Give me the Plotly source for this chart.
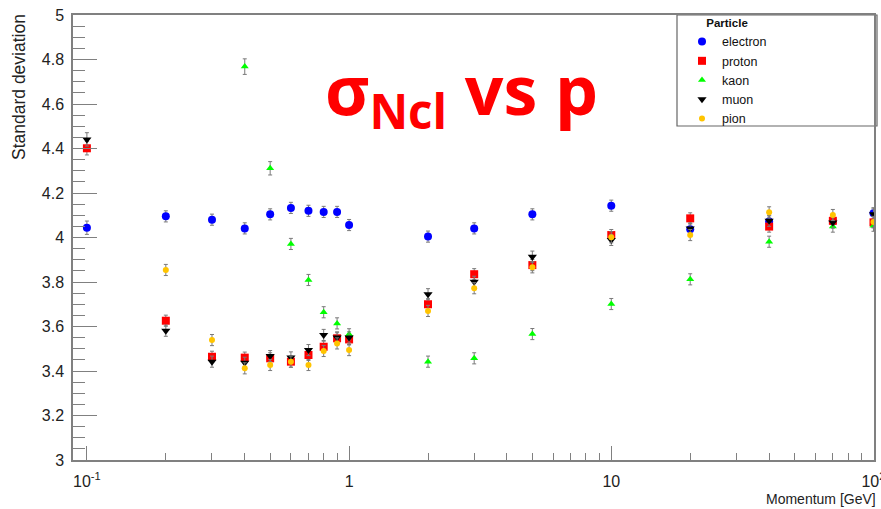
import plotly.graph_objects as go

# Momentum bins [GeV]
momentum = [0.1, 0.2, 0.3, 0.4, 0.5, 0.6, 0.7, 0.8, 0.9, 1, 2, 3, 5, 10, 20, 40, 70, 100]

# Standard deviation of Ncl per particle species
electron = [4.044, 4.095, 4.080, 4.041, 4.104, 4.133, 4.120, 4.115, 4.115, 4.056,
            4.004, 4.041, 4.104, 4.143, 4.037, 4.072, 4.072, 4.109]
proton = [4.401, 3.626, 3.464, 3.460, 3.457, 3.442, 3.472, 3.509, 3.547, 3.542,
          3.700, 3.835, 3.876, 4.011, 4.086, 4.049, 4.075, 4.068]
kaon = [None, None, None, 4.768, 4.311, 3.971, 3.809, 3.664, 3.614, 3.565,
        3.442, 3.457, 3.566, 3.701, 3.812, 3.981, 4.049, 4.053]
muon = [4.441, 3.581, 3.442, 3.437, 3.467, 3.461, 3.494, 3.562, 3.551, 3.551,
        3.745, 3.801, 3.914, 3.989, 4.041, 4.075, 4.067, 4.104]
pion = [None, 3.854, 3.539, 3.412, 3.427, 3.442, 3.427, 3.490, 3.524, 3.494,
        3.670, 3.772, 3.866, 4.001, 4.011, 4.113, 4.101, 4.070]

# Statistical uncertainties
electron_err = [0.030, 0.025, 0.025, 0.025, 0.025, 0.025, 0.025, 0.025, 0.025, 0.025,
                0.025, 0.025, 0.025, 0.025, 0.025, 0.025, 0.025, 0.025]
proton_err = [0.030, 0.025, 0.025, 0.025, 0.025, 0.025, 0.025, 0.025, 0.025, 0.025,
              0.025, 0.025, 0.025, 0.025, 0.025, 0.025, 0.025, 0.025]
kaon_err = [None, None, None, 0.035, 0.030, 0.025, 0.025, 0.025, 0.025, 0.025,
            0.025, 0.025, 0.025, 0.025, 0.025, 0.025, 0.025, 0.025]
muon_err = [0.030, 0.025, 0.025, 0.025, 0.025, 0.025, 0.025, 0.025, 0.025, 0.025,
            0.025, 0.025, 0.025, 0.025, 0.025, 0.025, 0.025, 0.025]
pion_err = [None, 0.025, 0.025, 0.025, 0.025, 0.025, 0.025, 0.025, 0.025, 0.025,
            0.025, 0.025, 0.025, 0.025, 0.025, 0.025, 0.025, 0.025]

series = [
    ("electron", electron, electron_err, "#0000ff", "circle", 8),
    ("proton", proton, proton_err, "#ff0000", "square", 8),
    ("kaon", kaon, kaon_err, "#00ff00", "triangle-up", 7),
    ("muon", muon, muon_err, "#000000", "triangle-down", 8),
    ("pion", pion, pion_err, "#ffc400", "circle", 6),
]

x_major = [0.1, 1, 10, 100]
x_major_text = ["10<sup>-1</sup>", "1", "10", "10<sup>2</sup>"]
x_minor = [m * d for d in (0.1, 1, 10) for m in range(2, 10)]
y_major = [3, 3.2, 3.4, 3.6, 3.8, 4, 4.2, 4.4, 4.6, 4.8, 5]
y_major_text = ["3", "3.2", "3.4", "3.6", "3.8", "4", "4.2", "4.4", "4.6", "4.8", "5"]

fig = go.Figure()
for name, vals, errs, color, symbol, size in series:
    fig.add_trace(go.Scatter(
        x=momentum, y=vals, name=name, mode="markers",
        marker=dict(color=color, symbol=symbol, size=size, line=dict(width=0)),
        error_y=dict(type="data", array=errs, visible=True,
                     color="#7a7a7a", thickness=1, width=2),
    ))

axis_grey = "#808080"
sans = "Liberation Sans, Arial, sans-serif"
tick_font = dict(family=sans, size=16, color="#222222")

# plot area in pixels: x 73..874, y 15..460
def px_x(p):
    return (p - 73) / 801.0

def px_y(p):
    return (460 - p) / 445.0

fig.update_layout(
    width=881, height=509,
    margin=dict(l=73, r=7, t=15, b=49, autoexpand=False),
    paper_bgcolor="white", plot_bgcolor="white",
    showlegend=True,
    legend=dict(
        x=px_x(682), xanchor="left", y=px_y(12), yanchor="top",
        bgcolor="rgba(0,0,0,0)", borderwidth=0,
        font=dict(family=sans, size=12.5, color="#111111"),
        title=dict(text="<b>Particle</b>", side="top center",
                   font=dict(family=sans, size=11.5, color="#111111")),
        itemsizing="trace",
    ),
    xaxis=dict(
        type="log", range=[-1.053, 2.002], automargin=False,
        showline=True, mirror=True, linecolor=axis_grey, linewidth=1.5,
        showgrid=False, zeroline=False,
        tickmode="array", tickvals=x_major, ticktext=x_major_text,
        ticks="inside", ticklen=14, tickcolor=axis_grey, tickwidth=1,
        tickfont=tick_font, ticklabelstandoff=6, ticklabeloverflow="allow",
        minor=dict(tickmode="array", tickvals=x_minor, ticks="inside",
                   ticklen=7, tickcolor=axis_grey, tickwidth=1, showgrid=False),
    ),
    yaxis=dict(
        range=[3, 5], automargin=False,
        showline=True, mirror=True, linecolor=axis_grey, linewidth=1.5,
        showgrid=False, zeroline=False,
        tickmode="array", tickvals=y_major, ticktext=y_major_text,
        ticks="inside", ticklen=24, tickcolor=axis_grey, tickwidth=1,
        tickfont=tick_font, ticklabelstandoff=4, ticklabeloverflow="allow",
        minor=dict(dtick=0.05, ticks="inside", ticklen=12,
                   tickcolor=axis_grey, tickwidth=1, showgrid=False),
    ),
    shapes=[
        # legend frame
        dict(type="rect", xref="paper", yref="paper",
             x0=px_x(677), x1=px_x(877), y0=px_y(126), y1=px_y(15),
             line=dict(color="#666666", width=1.2), fillcolor="white", layer="below"),
    ],
    annotations=[
        dict(text="Momentum [GeV]", xref="paper", yref="paper",
             x=px_x(878), y=px_y(489), xanchor="right", yanchor="top", showarrow=False,
             font=dict(family=sans, size=14, color="#222222")),
        dict(text="Standard deviation", xref="paper", yref="paper",
             x=px_x(19), y=px_y(12), xanchor="center", yanchor="top", textangle=-90,
             showarrow=False,
             font=dict(family=sans, size=17.5, color="#222222")),
        dict(text="<b>σ<sub>Ncl</sub> vs p</b>", xref="paper", yref="paper",
             x=px_x(461), y=0.826, xanchor="center", yanchor="middle", showarrow=False,
             font=dict(family="Open Sans, sans-serif", size=68, color="#ff0000")),
    ],
)

fig.write_html("out.html")
